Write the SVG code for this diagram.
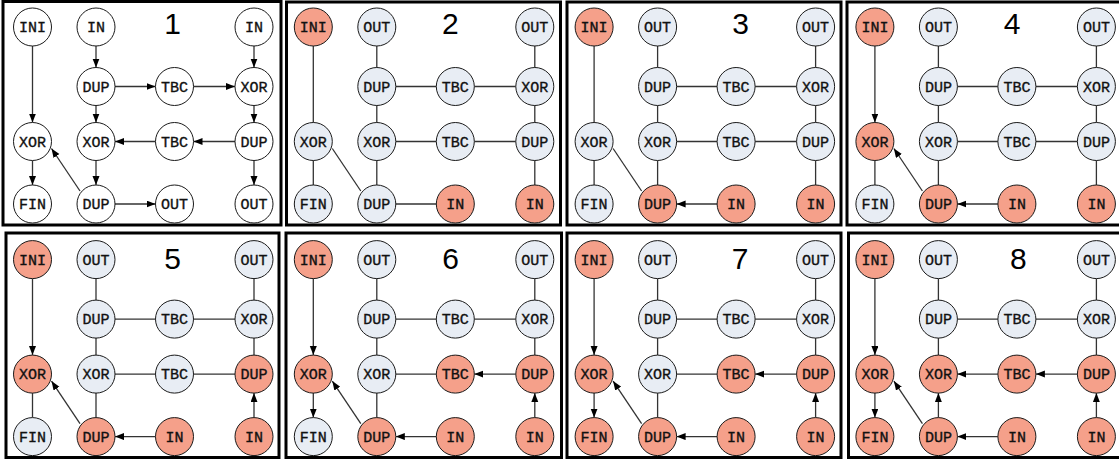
<svg xmlns="http://www.w3.org/2000/svg" width="1119" height="461" viewBox="0 0 1119 461">
<style>
.frame{fill:#fff;stroke:#000;stroke-width:3}
.n circle{stroke:#1a1a1a;stroke-width:1}
.w circle{fill:#fff}
.g circle{fill:#E8EDF4}
.r circle{fill:#F5A08A}
.n text{font-family:"Liberation Mono","DejaVu Sans Mono",monospace;font-size:15px;text-anchor:middle;fill:#111;stroke:#111;stroke-width:0.35}
.e path{stroke:#333;stroke-width:1.3;fill:none}
.e path.a{marker-end:url(#ah)}
.num{font-family:"Liberation Sans",Arial,sans-serif;font-size:30px;text-anchor:middle;fill:#000}
</style>
<defs>
<marker id="ah" markerUnits="userSpaceOnUse" markerWidth="10" markerHeight="8" refX="9" refY="3.5" orient="auto"><path d="M0,0 L9,3.5 L0,7z" fill="#000"/></marker>
</defs>
<rect width="1119" height="461" fill="#fff"/>

<!-- Panel 1 -->
<g id="panel1" transform="translate(0,0)">
<rect class="frame" x="3" y="1.5" width="278" height="223.5"/>
<text class="num" x="172.5" y="33.5">1</text>
<g id="p1-edges" class="e">
<path class="a" d="M32.5,46V122.5"/>
<path class="a" d="M32.5,160.5V185"/>
<path class="a" d="M96,46V67.5"/>
<path class="a" d="M96,105.5V122.5"/>
<path class="a" d="M96,160.5V185"/>
<path class="a" d="M254,46V67.5"/>
<path class="a" d="M254,105.5V122.5"/>
<path class="a" d="M254,160.5V185"/>
<path class="a" d="M115,86.5H155.5"/>
<path class="a" d="M193.5,86.5H235"/>
<path class="a" d="M155.5,141.5H115"/>
<path class="a" d="M235,141.5H193.5"/>
<path class="a" d="M115,204H155.5"/>
<path class="a" d="M80,191L51.5,148.5"/>
</g>
<g id="p1-ini" class="n w"><circle cx="32.5" cy="27" r="19"/><text x="32.5" y="32">INI</text></g>
<g id="p1-in1" class="n w"><circle cx="96" cy="27" r="19"/><text x="96" y="32">IN</text></g>
<g id="p1-in2" class="n w"><circle cx="254" cy="27" r="19"/><text x="254" y="32">IN</text></g>
<g id="p1-dup1" class="n w"><circle cx="96" cy="86.5" r="19"/><text x="96" y="91.5">DUP</text></g>
<g id="p1-tbc1" class="n w"><circle cx="174.5" cy="86.5" r="19"/><text x="174.5" y="91.5">TBC</text></g>
<g id="p1-xor1" class="n w"><circle cx="254" cy="86.5" r="19"/><text x="254" y="91.5">XOR</text></g>
<g id="p1-xor2" class="n w"><circle cx="32.5" cy="141.5" r="19"/><text x="32.5" y="146.5">XOR</text></g>
<g id="p1-xor3" class="n w"><circle cx="96" cy="141.5" r="19"/><text x="96" y="146.5">XOR</text></g>
<g id="p1-tbc2" class="n w"><circle cx="174.5" cy="141.5" r="19"/><text x="174.5" y="146.5">TBC</text></g>
<g id="p1-dup2" class="n w"><circle cx="254" cy="141.5" r="19"/><text x="254" y="146.5">DUP</text></g>
<g id="p1-fin" class="n w"><circle cx="32.5" cy="204" r="19"/><text x="32.5" y="209">FIN</text></g>
<g id="p1-dup3" class="n w"><circle cx="96" cy="204" r="19"/><text x="96" y="209">DUP</text></g>
<g id="p1-out1" class="n w"><circle cx="174.5" cy="204" r="19"/><text x="174.5" y="209">OUT</text></g>
<g id="p1-out2" class="n w"><circle cx="254" cy="204" r="19"/><text x="254" y="209">OUT</text></g>
</g>

<!-- Panel 2 -->
<g id="panel2" transform="translate(280.8,0)">
<rect class="frame" x="5.7" y="2" width="274" height="223"/>
<text class="num" x="169.5" y="33.5">2</text>
<g id="p2-edges" class="e">
<path d="M32.5,46V122.5"/>
<path d="M32.5,160.5V185"/>
<path d="M96,46V67.5"/>
<path d="M96,105.5V122.5"/>
<path d="M96,160.5V185"/>
<path d="M254,46V67.5"/>
<path d="M254,105.5V122.5"/>
<path d="M254,160.5V185"/>
<path d="M115,86.5H155.5"/>
<path d="M193.5,86.5H235"/>
<path d="M155.5,141.5H115"/>
<path d="M235,141.5H193.5"/>
<path d="M115,204H155.5"/>
<path d="M80,191L51.5,148.5"/>
</g>
<g id="p2-ini" class="n r"><circle cx="32.5" cy="27" r="19"/><text x="32.5" y="32">INI</text></g>
<g id="p2-out1" class="n g"><circle cx="96" cy="27" r="19"/><text x="96" y="32">OUT</text></g>
<g id="p2-out2" class="n g"><circle cx="254" cy="27" r="19"/><text x="254" y="32">OUT</text></g>
<g id="p2-dup1" class="n g"><circle cx="96" cy="86.5" r="19"/><text x="96" y="91.5">DUP</text></g>
<g id="p2-tbc1" class="n g"><circle cx="174.5" cy="86.5" r="19"/><text x="174.5" y="91.5">TBC</text></g>
<g id="p2-xor1" class="n g"><circle cx="254" cy="86.5" r="19"/><text x="254" y="91.5">XOR</text></g>
<g id="p2-xor2" class="n g"><circle cx="32.5" cy="141.5" r="19"/><text x="32.5" y="146.5">XOR</text></g>
<g id="p2-xor3" class="n g"><circle cx="96" cy="141.5" r="19"/><text x="96" y="146.5">XOR</text></g>
<g id="p2-tbc2" class="n g"><circle cx="174.5" cy="141.5" r="19"/><text x="174.5" y="146.5">TBC</text></g>
<g id="p2-dup2" class="n g"><circle cx="254" cy="141.5" r="19"/><text x="254" y="146.5">DUP</text></g>
<g id="p2-fin" class="n g"><circle cx="32.5" cy="204" r="19"/><text x="32.5" y="209">FIN</text></g>
<g id="p2-dup3" class="n g"><circle cx="96" cy="204" r="19"/><text x="96" y="209">DUP</text></g>
<g id="p2-in1" class="n r"><circle cx="174.5" cy="204" r="19"/><text x="174.5" y="209">IN</text></g>
<g id="p2-in2" class="n r"><circle cx="254" cy="204" r="19"/><text x="254" y="209">IN</text></g>
</g>

<!-- Panel 3 -->
<g id="panel3" transform="translate(561.6,0)">
<rect class="frame" x="5.4" y="2" width="274" height="223"/>
<text class="num" x="179" y="33.5">3</text>
<g id="p3-edges" class="e">
<path d="M32.5,46V122.5"/>
<path d="M32.5,160.5V185"/>
<path d="M96,46V67.5"/>
<path d="M96,105.5V122.5"/>
<path d="M96,160.5V185"/>
<path d="M254,46V67.5"/>
<path d="M254,105.5V122.5"/>
<path d="M254,160.5V185"/>
<path d="M115,86.5H155.5"/>
<path d="M193.5,86.5H235"/>
<path d="M155.5,141.5H115"/>
<path d="M235,141.5H193.5"/>
<path class="a" d="M155.5,204H115"/>
<path d="M80,191L51.5,148.5"/>
</g>
<g id="p3-ini" class="n r"><circle cx="32.5" cy="27" r="19"/><text x="32.5" y="32">INI</text></g>
<g id="p3-out1" class="n g"><circle cx="96" cy="27" r="19"/><text x="96" y="32">OUT</text></g>
<g id="p3-out2" class="n g"><circle cx="254" cy="27" r="19"/><text x="254" y="32">OUT</text></g>
<g id="p3-dup1" class="n g"><circle cx="96" cy="86.5" r="19"/><text x="96" y="91.5">DUP</text></g>
<g id="p3-tbc1" class="n g"><circle cx="174.5" cy="86.5" r="19"/><text x="174.5" y="91.5">TBC</text></g>
<g id="p3-xor1" class="n g"><circle cx="254" cy="86.5" r="19"/><text x="254" y="91.5">XOR</text></g>
<g id="p3-xor2" class="n g"><circle cx="32.5" cy="141.5" r="19"/><text x="32.5" y="146.5">XOR</text></g>
<g id="p3-xor3" class="n g"><circle cx="96" cy="141.5" r="19"/><text x="96" y="146.5">XOR</text></g>
<g id="p3-tbc2" class="n g"><circle cx="174.5" cy="141.5" r="19"/><text x="174.5" y="146.5">TBC</text></g>
<g id="p3-dup2" class="n g"><circle cx="254" cy="141.5" r="19"/><text x="254" y="146.5">DUP</text></g>
<g id="p3-fin" class="n g"><circle cx="32.5" cy="204" r="19"/><text x="32.5" y="209">FIN</text></g>
<g id="p3-dup3" class="n r"><circle cx="96" cy="204" r="19"/><text x="96" y="209">DUP</text></g>
<g id="p3-in1" class="n r"><circle cx="174.5" cy="204" r="19"/><text x="174.5" y="209">IN</text></g>
<g id="p3-in2" class="n r"><circle cx="254" cy="204" r="19"/><text x="254" y="209">IN</text></g>
</g>

<!-- Panel 4 -->
<g id="panel4" transform="translate(842.4,0)">
<rect class="frame" x="4.6" y="2" width="280" height="223"/>
<text class="num" x="169.6" y="33.5">4</text>
<g id="p4-edges" class="e">
<path class="a" d="M32.5,46V122.5"/>
<path d="M32.5,160.5V185"/>
<path d="M96,46V67.5"/>
<path d="M96,105.5V122.5"/>
<path d="M96,160.5V185"/>
<path d="M254,46V67.5"/>
<path d="M254,105.5V122.5"/>
<path d="M254,160.5V185"/>
<path d="M115,86.5H155.5"/>
<path d="M193.5,86.5H235"/>
<path d="M155.5,141.5H115"/>
<path d="M235,141.5H193.5"/>
<path class="a" d="M155.5,204H115"/>
<path class="a" d="M80,191L51.5,148.5"/>
</g>
<g id="p4-ini" class="n r"><circle cx="32.5" cy="27" r="19"/><text x="32.5" y="32">INI</text></g>
<g id="p4-out1" class="n g"><circle cx="96" cy="27" r="19"/><text x="96" y="32">OUT</text></g>
<g id="p4-out2" class="n g"><circle cx="254" cy="27" r="19"/><text x="254" y="32">OUT</text></g>
<g id="p4-dup1" class="n g"><circle cx="96" cy="86.5" r="19"/><text x="96" y="91.5">DUP</text></g>
<g id="p4-tbc1" class="n g"><circle cx="174.5" cy="86.5" r="19"/><text x="174.5" y="91.5">TBC</text></g>
<g id="p4-xor1" class="n g"><circle cx="254" cy="86.5" r="19"/><text x="254" y="91.5">XOR</text></g>
<g id="p4-xor2" class="n r"><circle cx="32.5" cy="141.5" r="19"/><text x="32.5" y="146.5">XOR</text></g>
<g id="p4-xor3" class="n g"><circle cx="96" cy="141.5" r="19"/><text x="96" y="146.5">XOR</text></g>
<g id="p4-tbc2" class="n g"><circle cx="174.5" cy="141.5" r="19"/><text x="174.5" y="146.5">TBC</text></g>
<g id="p4-dup2" class="n g"><circle cx="254" cy="141.5" r="19"/><text x="254" y="146.5">DUP</text></g>
<g id="p4-fin" class="n g"><circle cx="32.5" cy="204" r="19"/><text x="32.5" y="209">FIN</text></g>
<g id="p4-dup3" class="n r"><circle cx="96" cy="204" r="19"/><text x="96" y="209">DUP</text></g>
<g id="p4-in1" class="n r"><circle cx="174.5" cy="204" r="19"/><text x="174.5" y="209">IN</text></g>
<g id="p4-in2" class="n r"><circle cx="254" cy="204" r="19"/><text x="254" y="209">IN</text></g>
</g>

<!-- Panel 5 -->
<g id="panel5" transform="translate(0,232.6)">
<rect class="frame" x="6" y="0.4" width="273" height="224.5"/>
<text class="num" x="172.7" y="36.7">5</text>
<g id="p5-edges" class="e">
<path class="a" d="M32.5,46V122.5"/>
<path d="M32.5,160.5V185"/>
<path d="M96,46V67.5"/>
<path d="M96,105.5V122.5"/>
<path d="M96,160.5V185"/>
<path d="M254,46V67.5"/>
<path d="M254,105.5V122.5"/>
<path class="a" d="M254,185V160.5"/>
<path d="M115,86.5H155.5"/>
<path d="M193.5,86.5H235"/>
<path d="M155.5,141.5H115"/>
<path d="M235,141.5H193.5"/>
<path class="a" d="M155.5,204H115"/>
<path class="a" d="M80,191L51.5,148.5"/>
</g>
<g id="p5-ini" class="n r"><circle cx="32.5" cy="27" r="19"/><text x="32.5" y="32">INI</text></g>
<g id="p5-out1" class="n g"><circle cx="96" cy="27" r="19"/><text x="96" y="32">OUT</text></g>
<g id="p5-out2" class="n g"><circle cx="254" cy="27" r="19"/><text x="254" y="32">OUT</text></g>
<g id="p5-dup1" class="n g"><circle cx="96" cy="86.5" r="19"/><text x="96" y="91.5">DUP</text></g>
<g id="p5-tbc1" class="n g"><circle cx="174.5" cy="86.5" r="19"/><text x="174.5" y="91.5">TBC</text></g>
<g id="p5-xor1" class="n g"><circle cx="254" cy="86.5" r="19"/><text x="254" y="91.5">XOR</text></g>
<g id="p5-xor2" class="n r"><circle cx="32.5" cy="141.5" r="19"/><text x="32.5" y="146.5">XOR</text></g>
<g id="p5-xor3" class="n g"><circle cx="96" cy="141.5" r="19"/><text x="96" y="146.5">XOR</text></g>
<g id="p5-tbc2" class="n g"><circle cx="174.5" cy="141.5" r="19"/><text x="174.5" y="146.5">TBC</text></g>
<g id="p5-dup2" class="n r"><circle cx="254" cy="141.5" r="19"/><text x="254" y="146.5">DUP</text></g>
<g id="p5-fin" class="n g"><circle cx="32.5" cy="204" r="19"/><text x="32.5" y="209">FIN</text></g>
<g id="p5-dup3" class="n r"><circle cx="96" cy="204" r="19"/><text x="96" y="209">DUP</text></g>
<g id="p5-in1" class="n r"><circle cx="174.5" cy="204" r="19"/><text x="174.5" y="209">IN</text></g>
<g id="p5-in2" class="n r"><circle cx="254" cy="204" r="19"/><text x="254" y="209">IN</text></g>
</g>

<!-- Panel 6 -->
<g id="panel6" transform="translate(280.8,232.6)">
<rect class="frame" x="5.2" y="0.4" width="275.5" height="224.5"/>
<text class="num" x="169.9" y="36.7">6</text>
<g id="p6-edges" class="e">
<path class="a" d="M32.5,46V122.5"/>
<path class="a" d="M32.5,160.5V185"/>
<path d="M96,46V67.5"/>
<path d="M96,105.5V122.5"/>
<path d="M96,160.5V185"/>
<path d="M254,46V67.5"/>
<path d="M254,105.5V122.5"/>
<path class="a" d="M254,185V160.5"/>
<path d="M115,86.5H155.5"/>
<path d="M193.5,86.5H235"/>
<path d="M155.5,141.5H115"/>
<path class="a" d="M235,141.5H193.5"/>
<path class="a" d="M155.5,204H115"/>
<path class="a" d="M80,191L51.5,148.5"/>
</g>
<g id="p6-ini" class="n r"><circle cx="32.5" cy="27" r="19"/><text x="32.5" y="32">INI</text></g>
<g id="p6-out1" class="n g"><circle cx="96" cy="27" r="19"/><text x="96" y="32">OUT</text></g>
<g id="p6-out2" class="n g"><circle cx="254" cy="27" r="19"/><text x="254" y="32">OUT</text></g>
<g id="p6-dup1" class="n g"><circle cx="96" cy="86.5" r="19"/><text x="96" y="91.5">DUP</text></g>
<g id="p6-tbc1" class="n g"><circle cx="174.5" cy="86.5" r="19"/><text x="174.5" y="91.5">TBC</text></g>
<g id="p6-xor1" class="n g"><circle cx="254" cy="86.5" r="19"/><text x="254" y="91.5">XOR</text></g>
<g id="p6-xor2" class="n r"><circle cx="32.5" cy="141.5" r="19"/><text x="32.5" y="146.5">XOR</text></g>
<g id="p6-xor3" class="n g"><circle cx="96" cy="141.5" r="19"/><text x="96" y="146.5">XOR</text></g>
<g id="p6-tbc2" class="n r"><circle cx="174.5" cy="141.5" r="19"/><text x="174.5" y="146.5">TBC</text></g>
<g id="p6-dup2" class="n r"><circle cx="254" cy="141.5" r="19"/><text x="254" y="146.5">DUP</text></g>
<g id="p6-fin" class="n g"><circle cx="32.5" cy="204" r="19"/><text x="32.5" y="209">FIN</text></g>
<g id="p6-dup3" class="n r"><circle cx="96" cy="204" r="19"/><text x="96" y="209">DUP</text></g>
<g id="p6-in1" class="n r"><circle cx="174.5" cy="204" r="19"/><text x="174.5" y="209">IN</text></g>
<g id="p6-in2" class="n r"><circle cx="254" cy="204" r="19"/><text x="254" y="209">IN</text></g>
</g>

<!-- Panel 7 -->
<g id="panel7" transform="translate(561.6,232.6)">
<rect class="frame" x="5.4" y="0.4" width="274" height="224.5"/>
<text class="num" x="178.4" y="36.7">7</text>
<g id="p7-edges" class="e">
<path class="a" d="M32.5,46V122.5"/>
<path class="a" d="M32.5,160.5V185"/>
<path d="M96,46V67.5"/>
<path d="M96,105.5V122.5"/>
<path d="M96,160.5V185"/>
<path d="M254,46V67.5"/>
<path d="M254,105.5V122.5"/>
<path class="a" d="M254,185V160.5"/>
<path d="M115,86.5H155.5"/>
<path d="M193.5,86.5H235"/>
<path d="M155.5,141.5H115"/>
<path class="a" d="M235,141.5H193.5"/>
<path class="a" d="M155.5,204H115"/>
<path class="a" d="M80,191L51.5,148.5"/>
</g>
<g id="p7-ini" class="n r"><circle cx="32.5" cy="27" r="19"/><text x="32.5" y="32">INI</text></g>
<g id="p7-out1" class="n g"><circle cx="96" cy="27" r="19"/><text x="96" y="32">OUT</text></g>
<g id="p7-out2" class="n g"><circle cx="254" cy="27" r="19"/><text x="254" y="32">OUT</text></g>
<g id="p7-dup1" class="n g"><circle cx="96" cy="86.5" r="19"/><text x="96" y="91.5">DUP</text></g>
<g id="p7-tbc1" class="n g"><circle cx="174.5" cy="86.5" r="19"/><text x="174.5" y="91.5">TBC</text></g>
<g id="p7-xor1" class="n g"><circle cx="254" cy="86.5" r="19"/><text x="254" y="91.5">XOR</text></g>
<g id="p7-xor2" class="n r"><circle cx="32.5" cy="141.5" r="19"/><text x="32.5" y="146.5">XOR</text></g>
<g id="p7-xor3" class="n g"><circle cx="96" cy="141.5" r="19"/><text x="96" y="146.5">XOR</text></g>
<g id="p7-tbc2" class="n r"><circle cx="174.5" cy="141.5" r="19"/><text x="174.5" y="146.5">TBC</text></g>
<g id="p7-dup2" class="n r"><circle cx="254" cy="141.5" r="19"/><text x="254" y="146.5">DUP</text></g>
<g id="p7-fin" class="n r"><circle cx="32.5" cy="204" r="19"/><text x="32.5" y="209">FIN</text></g>
<g id="p7-dup3" class="n r"><circle cx="96" cy="204" r="19"/><text x="96" y="209">DUP</text></g>
<g id="p7-in1" class="n r"><circle cx="174.5" cy="204" r="19"/><text x="174.5" y="209">IN</text></g>
<g id="p7-in2" class="n r"><circle cx="254" cy="204" r="19"/><text x="254" y="209">IN</text></g>
</g>

<!-- Panel 8 -->
<g id="panel8" transform="translate(842.4,232.6)">
<rect class="frame" x="6.1" y="0.4" width="280" height="224.5"/>
<text class="num" x="175.9" y="36.7">8</text>
<g id="p8-edges" class="e">
<path class="a" d="M32.5,46V122.5"/>
<path class="a" d="M32.5,160.5V185"/>
<path d="M96,46V67.5"/>
<path d="M96,105.5V122.5"/>
<path class="a" d="M96,185V160.5"/>
<path d="M254,46V67.5"/>
<path d="M254,105.5V122.5"/>
<path class="a" d="M254,185V160.5"/>
<path d="M115,86.5H155.5"/>
<path d="M193.5,86.5H235"/>
<path class="a" d="M155.5,141.5H115"/>
<path class="a" d="M235,141.5H193.5"/>
<path class="a" d="M155.5,204H115"/>
<path class="a" d="M80,191L51.5,148.5"/>
</g>
<g id="p8-ini" class="n r"><circle cx="32.5" cy="27" r="19"/><text x="32.5" y="32">INI</text></g>
<g id="p8-out1" class="n g"><circle cx="96" cy="27" r="19"/><text x="96" y="32">OUT</text></g>
<g id="p8-out2" class="n g"><circle cx="254" cy="27" r="19"/><text x="254" y="32">OUT</text></g>
<g id="p8-dup1" class="n g"><circle cx="96" cy="86.5" r="19"/><text x="96" y="91.5">DUP</text></g>
<g id="p8-tbc1" class="n g"><circle cx="174.5" cy="86.5" r="19"/><text x="174.5" y="91.5">TBC</text></g>
<g id="p8-xor1" class="n g"><circle cx="254" cy="86.5" r="19"/><text x="254" y="91.5">XOR</text></g>
<g id="p8-xor2" class="n r"><circle cx="32.5" cy="141.5" r="19"/><text x="32.5" y="146.5">XOR</text></g>
<g id="p8-xor3" class="n r"><circle cx="96" cy="141.5" r="19"/><text x="96" y="146.5">XOR</text></g>
<g id="p8-tbc2" class="n r"><circle cx="174.5" cy="141.5" r="19"/><text x="174.5" y="146.5">TBC</text></g>
<g id="p8-dup2" class="n r"><circle cx="254" cy="141.5" r="19"/><text x="254" y="146.5">DUP</text></g>
<g id="p8-fin" class="n r"><circle cx="32.5" cy="204" r="19"/><text x="32.5" y="209">FIN</text></g>
<g id="p8-dup3" class="n r"><circle cx="96" cy="204" r="19"/><text x="96" y="209">DUP</text></g>
<g id="p8-in1" class="n r"><circle cx="174.5" cy="204" r="19"/><text x="174.5" y="209">IN</text></g>
<g id="p8-in2" class="n r"><circle cx="254" cy="204" r="19"/><text x="254" y="209">IN</text></g>
</g>
</svg>
